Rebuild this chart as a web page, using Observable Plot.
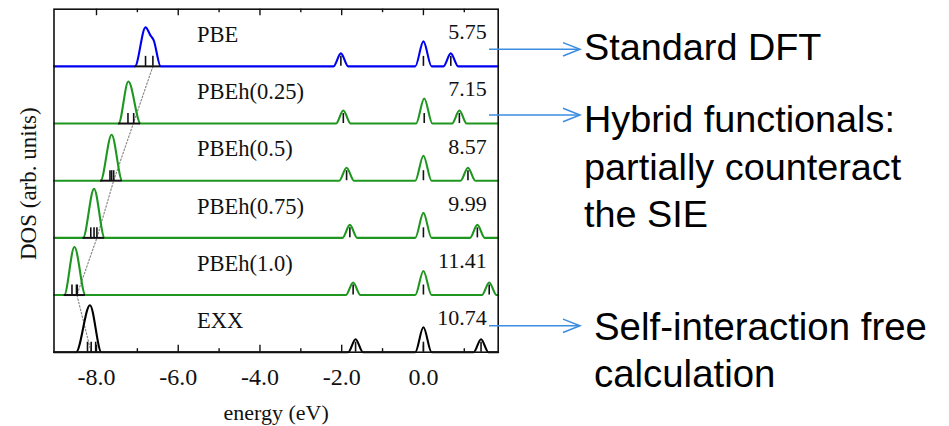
<!DOCTYPE html>
<html><head><meta charset="utf-8">
<script src="https://cdn.jsdelivr.net/npm/d3@7"></script>
<script src="https://cdn.jsdelivr.net/npm/@observablehq/plot@0.6"></script>
<style>body{margin:0;background:#fff}</style>
</head><body><div id="chart"></div>
<script>
// ---------- data ----------
const panels = ["PBE", "PBEh(0.25)", "PBEh(0.5)", "PBEh(0.75)", "PBEh(1.0)", "EXX"];
const gapLabels = ["5.75", "7.15", "8.57", "9.99", "11.41", "10.74"];
const xTicks = [-8, -6, -4, -2, 0];
const minorTicks = [-7, -5, -3, -1, 1];
const xDomain = [-9.04, 1.83];

// DOS key points per peak: [energy (eV), DOS (arb.)]
const dosPBE = [
  [[-7.06, 0], [-6.8, 39], [-6.68, 31], [-6.6, 26], [-6.43, 0]],
  [[-2.2, 0], [-2.02, 13], [-1.84, 0]],
  [[-0.2, 0], [0, 25], [0.2, 0]],
  [[0.49, 0], [0.67, 13], [0.85, 0]]
];
const dosPBEh025 = [
  [[-7.46, 0], [-7.22, 42], [-6.92, 0]],
  [[-2.14, 0], [-1.96, 13], [-1.78, 0]],
  [[-0.18, 0], [0.02, 25], [0.22, 0]],
  [[0.7, 0], [0.88, 13], [1.06, 0]]
];
const dosPBEh05 = [
  [[-7.9, 0], [-7.63, 46], [-7.37, 0]],
  [[-2.06, 0], [-1.88, 13], [-1.7, 0]],
  [[-0.2, 0], [0, 25], [0.2, 0]],
  [[0.91, 0], [1.09, 13], [1.27, 0]]
];
const dosPBEh075 = [
  [[-8.33, 0], [-8.06, 49], [-7.8, 0]],
  [[-1.98, 0], [-1.8, 13], [-1.62, 0]],
  [[-0.2, 0], [0, 25], [0.2, 0]],
  [[1.14, 0], [1.32, 13], [1.5, 0]]
];
const dosPBEh10 = [
  [[-8.79, 0], [-8.54, 48], [-8.27, 0]],
  [[-1.9, 0], [-1.72, 12.5], [-1.54, 0]],
  [[-0.2, 0], [0, 24], [0.2, 0]],
  [[1.43, 0], [1.61, 12.5], [1.79, 0]]
];
const dosEXX = [
  [[-8.5, 0], [-8.16, 47], [-7.88, 0]],
  [[-1.84, 0], [-1.66, 13], [-1.48, 0]],
  [[-0.2, 0], [0, 25], [0.2, 0]],
  [[1.23, 0], [1.41, 13], [1.59, 0]]
];

// eigenvalue sticks (eV)
const sticksPBE = [-6.8, -6.62, -2.02, 0, 0.67];
const sticksPBEh025 = [-7.23, -7.09, -1.96, 0.02, 0.88];
const sticksPBEh05 = [-7.67, -7.63, -7.58, -1.88, 0, 1.09];
const sticksPBEh075 = [-8.14, -8.06, -7.99, -1.8, 0, 1.32];
const sticksPBEh10 = [-8.6, -8.49, -8.47, -1.72, 0, 1.61];
const sticksEXX = [-8.22, -8.13, -8.02, -1.66, 0, 1.41];

// state tracked by the dotted guide line (eV), one per panel
const trackedState = [-6.62, -7.1, -7.58, -7.99, -8.48, -8.13];

// ---------- styles / layout ----------
const panelColors = ["#0000f0", "#1f961f", "#1f961f", "#1f961f", "#1f961f", "#000000"];
const dosSets = [dosPBE, dosPBEh025, dosPBEh05, dosPBEh075, dosPBEh10, dosEXX];
const stickSets = [sticksPBE, sticksPBEh025, sticksPBEh05, sticksPBEh075, sticksPBEh10, sticksEXX];
const yTotal = 343;
const panelH = yTotal / panels.length;
const base = i => (panels.length - 1 - i) * panelH;
const stickLen = 10;

const lineRows = panels.flatMap((p, i) =>
  [[xDomain[0], 0], ...dosSets[i].flat(), [xDomain[1], 0]]
    .map(([e, v]) => ({panel: p, e, y: base(i) + v})));
const mainBaseRows = panels.map((p, i) => {
  const pk = dosSets[i][0];
  return {x1: pk[0][0], x2: pk[pk.length - 1][0], y: base(i)};
});
const stickRows = panels.flatMap((p, i) => stickSets[i].map(e => ({e, y: base(i)})));
const dotRows = trackedState.map((e, i) => ({e, y: base(i)}));
const labelRows = panels.map((p, i) => ({panel: p, gap: gapLabels[i], y: base(i)}));

const plot = Plot.plot({
  width: 949, height: 426,
  marginLeft: 53.5, marginRight: 451.3, marginTop: 8.7, marginBottom: 74.3,
  style: {fontFamily: "'Liberation Serif', 'Times New Roman', serif", fontSize: "22px", background: "white", color: "black"},
  x: {domain: xDomain},
  y: {domain: [0, yTotal], axis: null},
  color: {type: "ordinal", domain: panels, range: panelColors},
  marks: [
    Plot.line(dotRows, {x: "e", y: "y", stroke: "#8a8a8a", strokeWidth: 1.2, strokeDasharray: "1.5,2"}),
    Plot.line(lineRows, {x: "e", y: "y", z: "panel", stroke: "panel", strokeWidth: 2.1, curve: "monotone-x"}),
    Plot.ruleY(mainBaseRows, {x1: "x1", x2: "x2", y: "y", stroke: "#111", strokeWidth: 2}),
    Plot.ruleX(stickRows, {x: "e", y1: "y", y2: d => d.y + stickLen, stroke: "#111", strokeWidth: 1.6}),
    Plot.frame({stroke: "#111", strokeWidth: 1.6}),
    Plot.ruleX(xTicks, {x: d => d, y1: 0, y2: 7, stroke: "#111", strokeWidth: 1.4}),
    Plot.ruleX(minorTicks, {x: d => d, y1: 0, y2: 3.5, stroke: "#111", strokeWidth: 1.4}),
    Plot.ruleX(xTicks, {x: d => d, y1: yTotal - 6.5, y2: yTotal, stroke: "#111", strokeWidth: 1.4}),
    Plot.ruleX(minorTicks, {x: d => d, y1: yTotal - 3.5, y2: yTotal, stroke: "#111", strokeWidth: 1.4}),
    Plot.axisX(xTicks, {tickFormat: d => d.toFixed(1), tickSize: 0, tickPadding: 15.6, label: null, fill: "#111", fontSize: 24, fontVariant: "normal"}),
    Plot.text(["energy (eV)"], {frameAnchor: "bottom", dy: 67.3, lineAnchor: "bottom", fill: "#111", fontSize: 22}),
    Plot.text(["DOS (arb. units)"], {frameAnchor: "left", rotate: -90, dx: -18.5, dy: 3, textAnchor: "middle", lineAnchor: "bottom", fill: "#111", fontSize: 23}),
    Plot.text(labelRows, {y: d => d.y + 24.3, text: "panel", frameAnchor: "left", dx: 143, textAnchor: "start", lineAnchor: "bottom", fill: "#111", fontSize: 22.5}),
    Plot.text(labelRows, {y: d => d.y + 27.2, text: "gap", frameAnchor: "right", dx: -11.5, textAnchor: "end", lineAnchor: "bottom", fill: "#111", fontSize: 22})
  ]
});
document.getElementById("chart").appendChild(plot);

// ---------- annotations (right side) ----------
const svg = d3.select(plot);
const ann = svg.append("g")
  .attr("font-family", "'Liberation Sans', Arial, sans-serif")
  .attr("text-anchor", "start")
  .attr("fill", "#000");
const arrowColor = "#3b8de0";
const arrows = [49.3, 115, 325.8];
arrows.forEach(y => {
  ann.append("line").attr("x1", 489).attr("x2", 579).attr("y1", y).attr("y2", y)
    .attr("stroke", arrowColor).attr("stroke-width", 1.5);
  ann.append("polyline").attr("points", `563,${y - 6.7} 580,${y} 563,${y + 6.7}`)
    .attr("fill", "none").attr("stroke", arrowColor).attr("stroke-width", 1.5);
});
const notes = [
  {t: "Standard DFT", x: 584, y: 60, s: 37.8},
  {t: "Hybrid functionals:", x: 584, y: 131.7, s: 37.8},
  {t: "partially counteract", x: 584, y: 179.5, s: 37.8},
  {t: "the SIE", x: 584, y: 227, s: 37.8},
  {t: "Self-interaction free", x: 594, y: 340, s: 38.4},
  {t: "calculation", x: 594, y: 387.3, s: 38.4}
];
notes.forEach(n => ann.append("text").attr("x", n.x).attr("y", n.y)
  .attr("text-anchor", "start").attr("font-size", n.s).text(n.t));
</script>
</body></html>
